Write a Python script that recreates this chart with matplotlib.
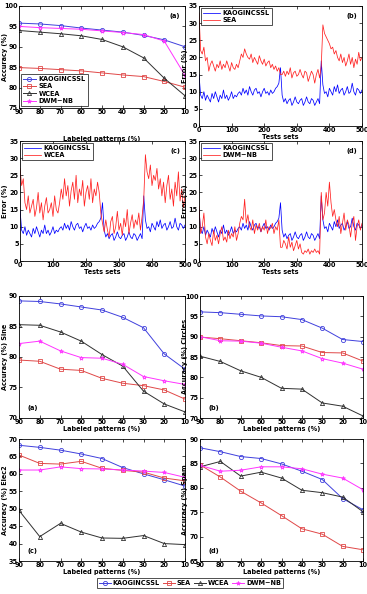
import matplotlib
matplotlib.use("Agg")
import matplotlib.pyplot as plt
import numpy as np

plt.rcParams['font.family'] = ['DejaVu Sans']
plt.rcParams['font.weight'] = 'bold'
plt.rcParams['axes.labelweight'] = 'bold'

# ---------------- data ----------------
labeled = [90, 80, 70, 60, 50, 40, 30, 20, 10]
methods = ["KAOGINCSSL", "SEA", "WCEA", "DWM\u2212NB"]

# top figure panel (a)
acc_a_kaog = [95.8, 95.6, 95.2, 94.6, 94.1, 93.6, 92.8, 91.7, 90.0]
acc_a_sea = [84.9, 84.7, 84.4, 84.1, 83.6, 83.1, 82.7, 81.5, 80.1]
acc_a_wcea = [94.0, 93.6, 93.2, 92.7, 91.8, 90.0, 87.3, 82.3, 78.0]
acc_a_dwm = [95.0, 94.7, 94.5, 94.3, 93.9, 93.5, 93.0, 91.4, 83.0]

# time series (test sets 0..500, every 5)
test_sets = list(range(0, 505, 5))
err_kaog = [15, 9, 8, 10, 7.5, 9, 8, 7, 9.5, 8, 10, 8.5, 7, 9, 8, 10.5, 8, 9, 7.5, 8.5, 10, 8, 9, 8.5, 9.5,
            10, 9, 11, 9.5, 10.5, 9, 11.5, 10, 9, 10.5, 11, 9.5, 10, 8.5, 10, 11, 9.5, 10, 9, 10.5, 9.5, 10, 11, 11.5,
            12.5, 17,
            9, 7, 8, 6.5, 7.5, 8, 6, 7, 8.5, 7, 6.5, 7.5, 8, 6, 7, 8.5, 7, 6.5, 8, 7.5, 6, 7, 8, 6.5,
            19,
            12, 9.5, 10, 8.5, 11, 10, 9, 11.5, 10, 12, 9.5, 10.5, 11, 9, 10, 11.5, 9.5, 10, 12.5, 10, 9, 11, 10.5, 9.5, 10.5]
err_sea = [33, 22, 21, 23, 19, 20, 16, 18, 19, 17.5, 16, 18, 17, 19, 16.5, 18, 17, 19, 17.5, 16, 18.5, 17, 16.5, 18, 17,
           19, 21, 20, 22.5, 21, 20, 19.5, 21, 18.5, 20, 19, 18, 20.5, 19, 18, 19.5, 17.5, 18.5, 19, 17, 18, 16.5, 17.5, 16,
           17, 15,
           15, 16, 14.5, 16, 15, 17, 14, 15.5, 16, 14.5, 15, 16.5, 15, 14, 16, 15.5, 13, 14.5, 16, 15, 12.5, 15, 16.5, 14,
           17.5,
           29.5, 27, 26, 25, 24, 22.5, 23, 21, 22, 20, 19, 21, 18.5, 20, 17.5, 19, 21, 18, 20, 17, 19.5, 18, 21.5, 19, 20]
err_wcea = [27, 22, 24, 17, 15, 19, 14, 16, 18, 13, 15.5, 20, 14, 17, 12, 16, 18.5, 14, 15, 17, 13, 19, 15, 14, 17,
            21, 18, 24, 19, 22, 16, 20.5, 23, 18, 25, 17, 21, 19, 23.5, 16, 20, 22, 18, 24, 17, 21, 19, 23, 20,
            14, 11,
            8.5, 12, 9, 7, 11.5, 13, 8, 10, 14.5, 9, 11, 7.5, 12.5, 10, 15, 8, 11, 13.5, 9.5, 12, 10.5, 14, 9, 13,
            18,
            31, 26, 24, 28, 22, 25, 23.5, 27, 21, 24, 19, 23, 17, 22, 25, 18, 21, 16, 23, 19, 26, 17.5, 21, 15.5, 19]
err_dwm = [16, 8, 10, 14, 7, 5, 8, 6, 4.5, 9, 6, 7.5, 5, 8, 10, 6, 7, 5.5, 9, 6.5, 8, 7, 10, 6, 8,
           11, 13, 12, 18, 11, 13.5, 10, 9, 12, 8, 10.5, 9, 11, 8.5, 10, 9, 12, 8, 10, 9.5, 11, 8, 10, 9,
           12, 4,
           4, 6, 5, 3.5, 7, 4, 5.5, 3, 4.5, 6, 3.5, 5, 2.5, 2, 3, 2.5, 3.5, 2, 3, 2.5, 3.5, 2.5, 3, 2,
           20,
           12, 14, 20, 16, 23, 17, 13, 15, 12, 10, 13, 8, 11, 14, 9, 12, 10.5, 7, 11, 13, 6, 10, 12, 9, 11]

# bottom figure
sine = {"KAOGINCSSL": [89.2, 89.1, 88.7, 88.2, 87.7, 86.5, 84.8, 80.5, 78.0],
        "SEA": [79.5, 79.3, 78.0, 77.8, 76.5, 75.7, 75.3, 74.6, 73.1],
        "WCEA": [85.3, 85.2, 84.1, 82.6, 80.4, 78.5, 74.4, 72.3, 71.0],
        "DWM\u2212NB": [82.2, 82.6, 81.0, 79.9, 79.8, 78.8, 76.8, 76.1, 75.5]}
circles = {"KAOGINCSSL": [96.1, 95.9, 95.5, 95.1, 94.9, 94.2, 92.1, 89.3, 88.8],
           "SEA": [89.9, 89.5, 89.0, 88.5, 87.8, 87.7, 86.1, 86.0, 84.0],
           "WCEA": [85.2, 83.9, 81.6, 80.0, 77.3, 77.1, 73.7, 72.9, 70.5],
           "DWM\u2212NB": [90.0, 89.0, 88.9, 88.4, 87.4, 86.5, 84.6, 83.5, 82.0]}
elec2 = {"KAOGINCSSL": [68.2, 67.6, 66.8, 65.7, 64.4, 61.8, 60.0, 58.3, 56.5],
         "SEA": [65.4, 63.0, 62.8, 63.6, 61.6, 61.0, 60.5, 58.8, 58.0],
         "WCEA": [49.5, 42.0, 45.8, 43.3, 41.6, 41.5, 42.3, 40.0, 39.7],
         "DWM\u2212NB": [61.1, 61.1, 62.0, 61.5, 61.4, 61.1, 60.8, 60.4, 59.0]}
spam = {"KAOGINCSSL": [88.2, 87.4, 86.4, 86.0, 84.9, 83.4, 81.7, 77.8, 75.5],
        "SEA": [84.7, 82.2, 79.3, 76.9, 74.3, 71.6, 70.5, 68.0, 67.3],
        "WCEA": [84.3, 85.4, 82.4, 83.2, 82.0, 79.5, 79.0, 78.1, 75.1],
        "DWM\u2212NB": [84.6, 83.4, 83.6, 84.3, 84.3, 83.9, 82.8, 82.0, 79.6]}

# ---------------- style ----------------
styles = {"KAOGINCSSL": dict(color="#4040dd", marker="o"),
          "SEA": dict(color="#e04848", marker="s"),
          "WCEA": dict(color="#303030", marker="^"),
          "DWM\u2212NB": dict(color="#ff33ff", marker="*")}
FS = 4.7
W, H = 367, 594
fig = plt.figure(figsize=(W / 100, H / 100), dpi=100)


def ax_px(l, t, r, b):
    return fig.add_axes([l / W, 1 - b / H, (r - l) / W, (b - t) / H])


def place_ylabel(ax, text, x_right_px):
    ax.set_ylabel(text, fontsize=FS, fontweight="bold")
    pos = ax.get_position()
    ax.yaxis.set_label_coords(x_right_px / W, pos.y0 + pos.height / 2, transform=fig.transFigure)


def style_ax(ax):
    ax.tick_params(direction="in", top=True, right=True, labelsize=FS, length=2.5, width=0.5, pad=1.0)
    for s in ax.spines.values():
        s.set_linewidth(0.6)
    for lab in ax.get_xticklabels() + ax.get_yticklabels():
        lab.set_fontweight("bold")


def acc_panel(ax, series_dict, ylim, yticks, ylabel, xr):
    for name in methods:
        st = styles[name]
        ax.plot(labeled, series_dict[name], color=st["color"], marker=st["marker"], markersize=3.0,
                markerfacecolor="none", markeredgewidth=0.6, linewidth=0.7, label=name)
    ax.set_xlim(90, 10)
    ax.set_xticks(labeled)
    ax.set_ylim(*ylim)
    ax.set_yticks(yticks)
    place_ylabel(ax, ylabel, xr)
    style_ax(ax)


# top (a)
ax = ax_px(19, 6, 185, 108)
acc_panel(ax, {"KAOGINCSSL": acc_a_kaog, "SEA": acc_a_sea, "WCEA": acc_a_wcea, "DWM\u2212NB": acc_a_dwm},
          (75, 100), range(75, 101, 5), "Accuracy (%)", 8)
ax.set_xlabel("Labeled patterns (%)", fontsize=FS, fontweight="bold")
ax.xaxis.set_label_coords(0.5, -0.27)
leg = ax.legend(loc="lower left", prop={"weight": "bold", "size": FS}, frameon=True, fancybox=False,
                edgecolor="black", handlelength=2.0, borderpad=0.3, labelspacing=0.2, borderaxespad=0.3,
                handletextpad=0.4)
leg.get_frame().set_linewidth(0.6)
ax.text(0.97, 0.93, "(a)", transform=ax.transAxes, ha="right", va="top", fontsize=FS, fontweight="bold")


def ts_panel(ax, red, redname, lab, xr):
    ax.plot(test_sets, err_kaog, color="#0000ff", linewidth=0.55, label="KAOGINCSSL")
    ax.plot(test_sets, red, color="#ff2020", linewidth=0.55, label=redname)
    ax.set_xlim(0, 500)
    ax.set_ylim(0, 35)
    ax.set_xticks(range(0, 501, 100))
    ax.set_yticks(range(0, 36, 5))
    ax.set_xlabel("Tests sets", fontsize=FS, fontweight="bold", labelpad=0.5)
    place_ylabel(ax, "Error (%)", xr)
    style_ax(ax)
    lg = ax.legend(loc="upper left", prop={"weight": "bold", "size": FS}, frameon=True, fancybox=False,
                   edgecolor="black", handlelength=2.6, borderpad=0.3, labelspacing=0.15, borderaxespad=0.3,
                   handletextpad=0.4)
    lg.get_frame().set_linewidth(0.6)
    ax.text(0.97, 0.94, lab, transform=ax.transAxes, ha="right", va="top", fontsize=FS, fontweight="bold")


ts_panel(ax_px(199, 6, 362, 126), err_sea, "SEA", "(b)", 188)
ts_panel(ax_px(20, 141, 185, 261), err_wcea, "WCEA", "(c)", 8)
ts_panel(ax_px(199, 141, 362, 261), err_dwm, "DWM\u2212NB", "(d)", 188)

# bottom figure
panels = [((19, 296, 185, 418), sine, (70, 90), range(70, 91, 5), "Accuracy (%) Sine", "(a)", 8),
          ((200, 296, 363, 418), circles, (70, 100), range(70, 101, 5), "Accuracy (%) Circles", "(b)", 188),
          ((19, 439, 185, 561), elec2, (35, 70), range(35, 71, 5), "Accuracy (%) Elec2", "(c)", 8),
          ((200, 439, 363, 561), spam, (65, 90), range(65, 91, 5), "Accuracy (%) Spam", "(d)", 188)]
for box, d, yl, yt, ylab, lab, xr in panels:
    ax = ax_px(*box)
    acc_panel(ax, d, yl, yt, ylab, xr)
    ax.set_xlabel("Labeled patterns (%)", fontsize=FS, fontweight="bold", labelpad=0.5)
    ax.text(0.05, 0.06, lab, transform=ax.transAxes, ha="left", va="bottom", fontsize=FS, fontweight="bold")

# shared legend
handles = []
for name in methods:
    st = styles[name]
    h, = ax.plot([], [], color=st["color"], marker=st["marker"], markersize=3.0, markerfacecolor="none",
                 markeredgewidth=0.6, linewidth=0.7, label=name)
    handles.append(h)
fl = fig.legend(handles=handles, loc="center", bbox_to_anchor=(190 / W, 1 - 583 / H), ncol=4,
                prop={"weight": "bold", "size": FS}, frameon=True, fancybox=False, edgecolor="black",
                handlelength=1.8, columnspacing=0.5, handletextpad=0.3, borderpad=0.3)
fl.get_frame().set_linewidth(0.6)

fig.savefig("out.png", dpi=100)
